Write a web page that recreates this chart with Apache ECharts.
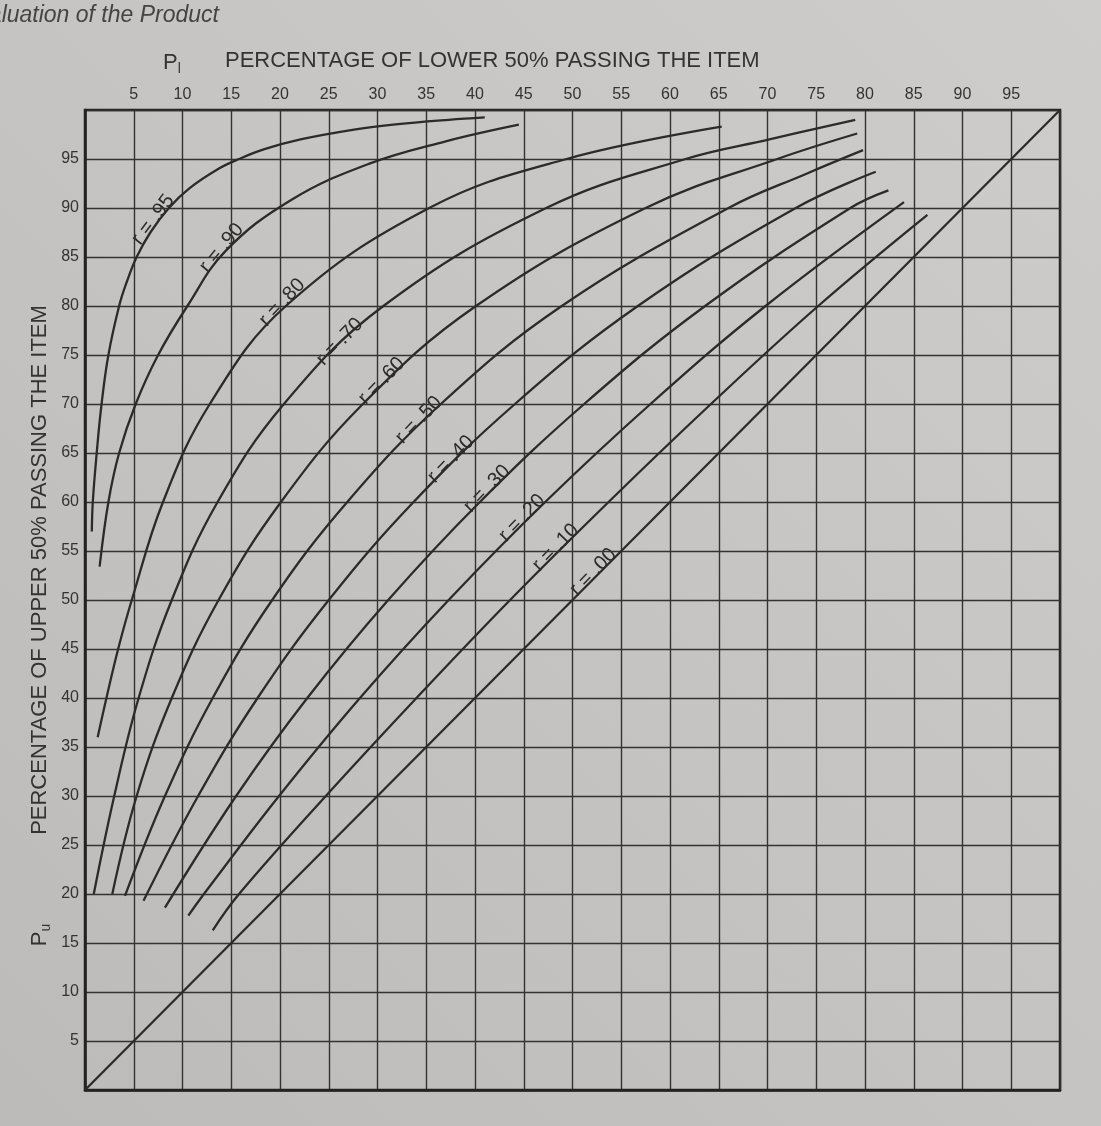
<!DOCTYPE html>
<html>
<head>
    <meta charset="utf-8">
    <title>Pu / Pl chart</title>
    <script src="https://cdn.jsdelivr.net/npm/echarts@6/dist/echarts.min.js"></script>
    <style>
        html, body { margin: 0; padding: 0; background: #c6c5c3; }
        #chart { width: 1101px; height: 1126px; }
    </style>
</head>
<body>
<div id="chart"></div>
<script type="text/javascript">
    // curves: [Pl, Pu] points, one list per r
    var r95 = [[0.7, 57], [0.8, 60], [1.2, 65], [1.7, 70], [2.4, 75], [3.5, 80], [4.3, 82.5], [5.3, 85], [6.7, 87.5], [8.6, 90], [10.7, 92], [13.7, 94], [15.8, 95], [18.4, 96], [22.1, 97], [27.6, 98], [31.6, 98.5], [37.3, 99], [41, 99.25]];
    var r90 = [[1.5, 53.4], [2.4, 60], [3.5, 65], [5.2, 70], [7.5, 75], [10.5, 80], [14.4, 85.6], [21.1, 90.8], [29.1, 94.5], [37, 96.8], [44.5, 98.5]];
    var r80 = [[1.3, 36], [2.2, 40], [3.4, 45], [4.8, 50], [8.0, 60], [12.8, 70], [20.6, 80], [35.3, 90], [49.4, 95], [65.3, 98.3]];
    var r70 = [[0.9, 20], [3.0, 30], [5.5, 40], [8.9, 50], [13.6, 60], [20.4, 70], [30.6, 80], [47.3, 90], [61.6, 95], [70.2, 97], [79, 99]];
    var r60 = [[2.8, 20], [5.3, 30], [8.9, 40], [13.7, 50], [20.1, 60], [28.5, 70], [40.1, 80], [57.5, 90], [71.0, 95], [79.2, 97.6]];
    var r50 = [[4.1, 19.8], [8.2, 30], [13.1, 40], [19.2, 50], [26.9, 60], [36.5, 70], [48.9, 80], [66.0, 90], [74.0, 93.5], [79.8, 95.9]];
    var r40 = [[6.0, 19.3], [11.6, 30], [17.7, 40], [25.0, 50], [33.7, 60], [44.1, 70], [56.7, 80], [72.9, 90], [81.1, 93.7]];
    var r30 = [[8.2, 18.6], [15.5, 30], [22.8, 40], [31.1, 50], [40.5, 60], [51.2, 70], [63.6, 80], [78.5, 90], [82.4, 91.8]];
    var r20 = [[10.6, 17.8], [12.2, 20], [19.9, 30], [28.2, 40], [37.3, 50], [47.2, 60], [58.0, 70], [69.8, 80], [84.0, 90.6]];
    var r10 = [[13.1, 16.3], [15.8, 20], [24.7, 30], [34.0, 40], [43.6, 50], [53.7, 60], [64.2, 70], [75.2, 80], [86.4, 89.3]];
    var r00 = [[0, 0], [100, 100]];

    // curve labels: text, the point on the curve they sit at, and their slant
    var labelText = ['r = .95', 'r = .90', 'r = .80', 'r = .70', 'r = .60', 'r = .50', 'r = .40', 'r = .30', 'r = .20', 'r = .10', 'r = .00'];
    var labelAt = [[7.4, 88.5], [14.4, 85.6], [20.6, 80], [26.5, 76], [30.8, 72], [34.6, 68], [37.9, 64], [41.6, 61], [45.2, 58], [48.65, 55], [52.5, 52.5]];
    var labelTilt = [53, 50, 47, 46, 46, 46, 46, 46, 46, 46, 46];

    var curves = [r95, r90, r80, r70, r60, r50, r40, r30, r20, r10, r00];

    var font = 'Liberation Sans, DejaVu Sans, sans-serif';
    var ink = '#2b2b2b';

    var series = curves.map(function (pts) {
        return {
            type: 'line',
            data: pts,
            smooth: 0.4,
            symbol: 'none',
            lineStyle: {color: ink, width: 2.3},
            silent: true
        };
    });

    var tickLabel = function (v) {
        return (v > 0 && v < 100) ? String(v) : '';
    };

    var graphics = [
        {   // page running head, cut off at the left edge
            type: 'text', x: -38, y: 4,
            style: {text: 'Evaluation of the Product', fontSize: 23, fontStyle: 'italic', fontFamily: font, fill: '#444'}
        },
        {
            type: 'text', x: 163, y: 50,
            style: {
                text: '{p|P}{s|l}',
                rich: {
                    p: {fontSize: 22, fontFamily: font, fill: '#333'},
                    s: {fontSize: 14, fontFamily: font, fill: '#333', verticalAlign: 'bottom', padding: [12, 0, 0, 0]}
                }
            }
        },
        {
            type: 'text', x: 225, y: 50,
            style: {text: 'PERCENTAGE OF LOWER 50% PASSING THE ITEM', fontSize: 22, fontFamily: font, fill: '#333'}
        },
        {
            type: 'text', x: 40, y: 570, rotation: Math.PI / 2,
            style: {text: 'PERCENTAGE OF UPPER 50% PASSING THE ITEM', fontSize: 22, fontFamily: font, fill: '#333',
                align: 'center', verticalAlign: 'middle'}
        },
        {
            type: 'text', x: 40, y: 935, rotation: Math.PI / 2,
            style: {
                text: '{p|P}{s|u}',
                align: 'center', verticalAlign: 'middle',
                rich: {
                    p: {fontSize: 22, fontFamily: font, fill: '#333'},
                    s: {fontSize: 14, fontFamily: font, fill: '#333', padding: [12, 0, 0, 0]}
                }
            }
        }
    ];

    var myChart = echarts.init(document.getElementById('chart'));
    myChart.setOption({
        backgroundColor: {
            type: 'linear', x: 1, y: 0, x2: 0, y2: 1,
            colorStops: [{offset: 0, color: '#cecdcb'}, {offset: 1, color: '#bcbbb9'}]
        },
        animation: false,
        grid: {
            left: 85, top: 110, width: 975, height: 980,
            show: true, borderColor: '#222', borderWidth: 2.5
        },
        xAxis: {
            type: 'value', position: 'top',
            min: 0, max: 100, interval: 5,
            axisLine: {show: true, lineStyle: {color: '#222', width: 2.5}},
            axisTick: {show: false},
            axisLabel: {formatter: tickLabel, color: '#333', fontSize: 16, margin: 7, fontFamily: font},
            splitLine: {show: true, lineStyle: {color: '#333', width: 1.4}}
        },
        yAxis: {
            type: 'value', position: 'left',
            min: 0, max: 100, interval: 5,
            axisLine: {show: true, lineStyle: {color: '#222', width: 2.5}},
            axisTick: {show: false},
            axisLabel: {formatter: tickLabel, color: '#333', fontSize: 16, margin: 6, fontFamily: font},
            splitLine: {show: true, lineStyle: {color: '#333', width: 1.4}}
        },
        graphic: graphics,
        series: series
    });

    // r labels: place each one on its curve, nudged a little to the upper left
    labelAt.forEach(function (p, i) {
        var px = myChart.convertToPixel({gridIndex: 0}, p);
        var a = labelTilt[i] * Math.PI / 180;
        graphics.push({
            type: 'text',
            x: px[0] - 5 * Math.sin(a),
            y: px[1] - 5 * Math.cos(a),
            rotation: a,
            style: {text: labelText[i], fontSize: 20, fontFamily: font, fill: ink, align: 'center', verticalAlign: 'middle'}
        });
    });
    myChart.setOption({graphic: graphics});
</script>
</body>
</html>
